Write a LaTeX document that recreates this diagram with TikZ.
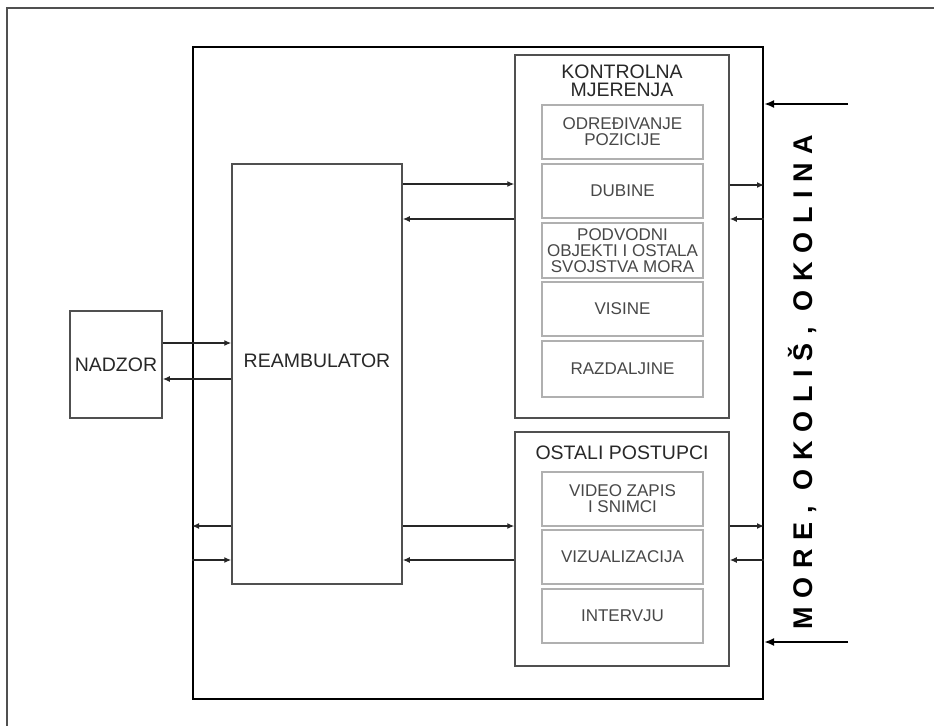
\documentclass[tikz,border=0pt]{standalone}
\usepackage{fontspec}
\setmainfont{Liberation Sans}
\newfontfamily\spacedfont[LetterSpace=32]{Liberation Sans}
\usetikzlibrary{arrows.meta}
\definecolor{linegray}{HTML}{505050}
\definecolor{lightline}{HTML}{B0B0B0}
\definecolor{txtdark}{HTML}{282828}
\definecolor{txtin}{HTML}{484848}
\begin{document}
\begin{tikzpicture}[x=1pt,y=-1pt,
  mainbox/.style={draw=black,line width=2pt,minimum width=570pt,minimum height=652pt,inner sep=0pt},
  grpbox/.style={draw=linegray,line width=1.5pt,minimum width=214pt,inner sep=0pt},
  inbox/.style={draw=lightline,line width=1.5pt,minimum width=161pt,inner sep=0pt,
    text=txtin,font=\fontsize{17}{16}\selectfont,align=center},
  blockbox/.style={draw=linegray,line width=1.5pt,inner sep=0pt},
  ttl/.style={text=txtdark,font=\fontsize{19.5}{18}\selectfont,align=center,inner sep=0pt},
  arr/.style={draw=black!85,line width=1.3pt,-{Latex[length=7pt,width=6pt]}},
  bigarr/.style={draw=black,line width=2.2pt,-{Latex[length=10pt,width=8pt]}}]
\useasboundingbox[fill=white] (0,0) rectangle (934,726);
% outer frame (top and left)
\draw[linegray,line width=2pt] (934,8) -- (7,8) -- (7,726);
% main box
\node[mainbox] (main) at (478,373) {};
% KONTROLNA MJERENJA group
\node[grpbox,minimum height=363pt] (kont) at (622,236.5) {};
\node[ttl] (kontt) at (622,80.5) {KONTROLNA\\MJERENJA};
\node[inbox,minimum height=54pt] (odr) at (622.5,132) {ODREĐIVANJE\\POZICIJE};
\node[inbox,minimum height=54pt] (dub) at (622.5,191) {DUBINE};
\node[inbox,minimum height=55pt] (pod) at (622.5,250.5) {PODVODNI\\OBJEKTI I OSTALA\\SVOJSTVA MORA};
\node[inbox,minimum height=54pt] (vis) at (622.5,309) {VISINE};
\node[inbox,minimum height=56pt] (raz) at (622.5,369) {RAZDALJINE};
% OSTALI POSTUPCI group
\node[grpbox,minimum height=234pt] (ost) at (622,549) {};
\node[ttl] (ostt) at (622,453) {OSTALI POSTUPCI};
\node[inbox,minimum height=54pt] (vid) at (622.5,499) {VIDEO ZAPIS\\I SNIMCI};
\node[inbox,minimum height=54pt] (viz) at (622.5,557) {VIZUALIZACIJA};
\node[inbox,minimum height=54pt] (int) at (622.5,616) {INTERVJU};
% REAMBULATOR
\node[blockbox,minimum width=170pt,minimum height=420pt] (ream) at (317,374) {};
\node[ttl] (reamt) at (317,361) {REAMBULATOR};
% NADZOR
\node[blockbox,minimum width=92pt,minimum height=107pt,ttl] (nadz) at (116,364.5) {NADZOR};
% connectors
\draw[arr] (nadz.east |- 0,343) -- (ream.west |- 0,343);
\draw[arr] (ream.west |- 0,379) -- (nadz.east |- 0,379);
\draw[arr] (ream.east |- 0,184) -- (kont.west |- 0,184);
\draw[arr] (kont.west |- 0,219) -- (ream.east |- 0,219);
\draw[arr] (ream.east |- 0,526) -- (ost.west |- 0,526);
\draw[arr] (ost.west |- 0,560) -- (ream.east |- 0,560);
\draw[arr] (ream.west |- 0,526) -- (main.west |- 0,526);
\draw[arr] (main.west |- 0,560) -- (ream.west |- 0,560);
\draw[arr] (kont.east |- 0,185) -- (main.east |- 0,185);
\draw[arr] (main.east |- 0,219) -- (kont.east |- 0,219);
\draw[arr] (ost.east |- 0,526) -- (main.east |- 0,526);
\draw[arr] (main.east |- 0,560) -- (ost.east |- 0,560);
% environment arrows
\coordinate (e1) at (848,104);
\coordinate (e2) at (848,642);
\draw[bigarr] (e1) -- (main.east |- e1);
\draw[bigarr] (e2) -- (main.east |- e2);
\node[rotate=90,inner sep=0pt,text=black,font=\spacedfont\bfseries\fontsize{27}{27}\selectfont] (env) at (802,382) {MORE, OKOLIŠ, OKOLINA};
\end{tikzpicture}
\end{document}
